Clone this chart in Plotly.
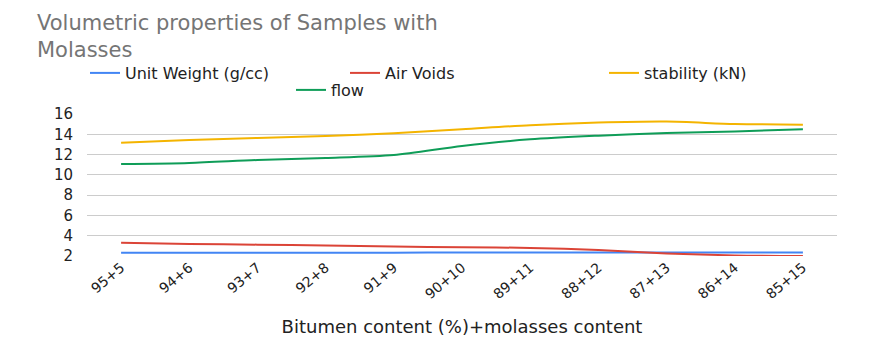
import plotly.graph_objects as go

categories = ["95+5", "94+6", "93+7", "92+8", "91+9", "90+10", "89+11", "88+12", "87+13", "86+14", "85+15"]
unit_weight = [2.31, 2.32, 2.32, 2.33, 2.33, 2.34, 2.34, 2.34, 2.34, 2.34, 2.34]
air_voids = [3.31, 3.18, 3.12, 3.03, 2.93, 2.87, 2.80, 2.58, 2.25, 2.06, 2.0]
stability = [13.17, 13.44, 13.64, 13.83, 14.1, 14.49, 14.9, 15.15, 15.25, 15.02, 14.95]
flow = [11.07, 11.17, 11.46, 11.66, 11.95, 12.84, 13.5, 13.86, 14.12, 14.28, 14.5]

series_names = ["Unit Weight (g/cc)", "Air Voids", "stability (kN)", "flow"]
series_values = [unit_weight, air_voids, stability, flow]
series_colors = ["#4285F4", "#DB4437", "#F4B400", "#0F9D58"]
legend_ids = ["legend", "legend2", "legend3", "legend4"]
# legend symbol left x (px) and row centre y (px)
legend_pos = [(90, 73), (350, 73), (609, 73), (296, 90)]

FONT = "DejaVu Sans"
TXT = "#222222"

fig = go.Figure()
for name, vals, color, lg in zip(series_names, series_values, series_colors, legend_ids):
    fig.add_trace(go.Scatter(
        x=categories, y=vals, name=name, mode="lines",
        line=dict(color=color, width=2, shape="spline", smoothing=0.8),
        legend=lg,
    ))

H_PLOT = 142.0
def py(pix):
    return (256 - pix) / H_PLOT

legend_layout = {}
for lg, (lx, ly) in zip(legend_ids, legend_pos):
    legend_layout[lg] = dict(
        orientation="h", xref="container", yref="container",
        x=(lx - 5) / 872, y=1 - ly / 352, xanchor="left", yanchor="middle",
        itemwidth=30, font=dict(size=16, color=TXT, family=FONT),
        bgcolor="rgba(0,0,0,0)", borderwidth=0,
    )

fig.update_layout(
    width=872, height=352,
    margin=dict(l=87, r=35, t=114, b=96, autoexpand=False),
    paper_bgcolor="white", plot_bgcolor="white",
    font=dict(family=FONT, color=TXT),
    showlegend=True,
    xaxis=dict(
        type="category", range=[-0.5, 10.5],
        showgrid=False, zeroline=False, showline=False, ticks="",
        tickangle=-40, tickfont=dict(size=14, color=TXT),
        title=dict(text="Bitumen content (%)+molasses content",
                   font=dict(size=18, color=TXT), standoff=19),
        automargin=False,
    ),
    yaxis=dict(
        range=[2, 16], dtick=2, tick0=2,
        showgrid=True, gridcolor="#cccccc", gridwidth=1,
        zeroline=False, showline=False, ticks="",
        tickfont=dict(size=15, color=TXT),
        ticklabelstandoff=13, automargin=False,
    ),
    annotations=[
        dict(text="Volumetric properties of Samples with<br>Molasses", xref="paper", yref="paper",
             x=(35 - 87) / 750, y=py(9), xanchor="left", yanchor="top", align="left",
             showarrow=False, font=dict(size=21, color="#757575", family=FONT)),
    ],
    **legend_layout,
)

fig.write_html("out.html")
